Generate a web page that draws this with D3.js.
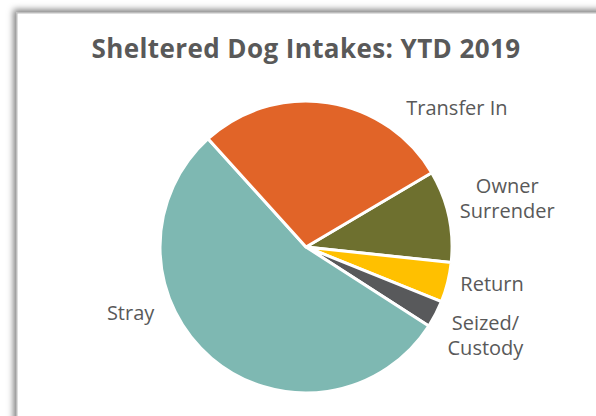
<!DOCTYPE html>
<html>
<head>
<meta charset="utf-8">
<script src="https://cdn.jsdelivr.net/npm/d3@7"></script>
<style>
  html, body { margin: 0; padding: 0; background: #ffffff; }
  svg { display: block; }
</style>
</head>
<body>
<svg id="chart" width="596" height="416"></svg>
<script>
// chart values (share of intakes, %), alphabetical like the source sheet
const categories = ["Owner Surrender", "Return", "Seized/Custody", "Stray", "Transfer In"];
const shares = [10.2, 4.4, 3.0, 54.2, 28.2];
const colors = ["#6E702F", "#FFC000", "#58595B", "#7EB8B2", "#E16428"];
// label lines as shown in the chart
const labelLines = [["Owner", "Surrender"], ["Return"], ["Seized/", "Custody"], ["Stray"], ["Transfer In"]];

const width = 596;
const height = 416;
const cx = 306;
const cy = 247;
const radius = 146;
const labelFont = "'Open Sans', sans-serif";
const textColor = "#595959";

const svg = d3.select("#chart");

// frame with soft shadow on the top/left edges
const defs = svg.append("defs");
const shadow = defs.append("filter")
  .attr("id", "frame-shadow")
  .attr("x", "-10%").attr("y", "-10%")
  .attr("width", "120%").attr("height", "120%");
shadow.append("feDropShadow")
  .attr("dx", -3).attr("dy", -3)
  .attr("stdDeviation", 3)
  .attr("flood-color", "#000")
  .attr("flood-opacity", 0.5);

svg.append("rect")
  .attr("x", 17).attr("y", 13)
  .attr("width", width + 20).attr("height", height + 20)
  .style("fill", "#fff")
  .style("stroke", "#bdbdbd")
  .style("stroke-width", 1)
  .attr("filter", "url(#frame-shadow)");

// title
svg.append("text")
  .attr("x", cx)
  .attr("y", 58)
  .attr("text-anchor", "middle")
  .style("font-family", labelFont)
  .style("font-weight", "bold")
  .style("font-size", "26px")
  .style("letter-spacing", "0.4px")
  .style("fill", textColor)
  .text("Sheltered Dog Intakes: YTD 2019");

const data = categories.map((c, i) => ({category: c, value: shares[i], color: colors[i], lines: labelLines[i]}));

const startDeg = 59.4;
const pie = d3.pie()
  .sort(null)
  .value((d) => d.value)
  .startAngle(startDeg * Math.PI / 180)
  .endAngle((startDeg + 360) * Math.PI / 180);

const arcs = pie(data);

const arc = d3.arc()
  .innerRadius(0)
  .outerRadius(radius);

const labelArc = d3.arc()
  .innerRadius(radius + 20)
  .outerRadius(radius + 20);

const pieGroup = svg.append("g")
  .attr("transform", `translate(${cx}, ${cy})`);

pieGroup.selectAll("path.slice")
  .data(arcs)
  .enter()
  .append("path")
  .attr("class", "slice")
  .attr("d", arc)
  .style("fill", (d) => d.data.color)
  .style("stroke", "#fff")
  .style("stroke-width", 3)
  .style("stroke-linejoin", "round");

// labels outside the pie, nudged per slice like the original "best fit" layout
const labelNudge = {
  "Owner Surrender": [39, -13],
  "Return": [25, -3],
  "Seized/Custody": [32, 12],
  "Stray": [-68, -61],
  "Transfer In": [126, 25]
};
const lineHeight = 25;

const labels = pieGroup.selectAll("text.label")
  .data(arcs)
  .enter()
  .append("text")
  .attr("class", "label")
  .attr("text-anchor", "middle")
  .style("font-family", labelFont)
  .style("font-size", "20px")
  .style("fill", textColor)
  .attr("transform", (d) => {
    const pos = labelArc.centroid(d);
    const n = labelNudge[d.data.category];
    return `translate(${pos[0] + n[0]}, ${pos[1] + n[1]})`;
  });

labels.each(function(d) {
  const t = d3.select(this);
  const lines = d.data.lines;
  const offset = -(lines.length - 1) * lineHeight / 2 + 7;
  lines.forEach((line, i) => {
    t.append("tspan")
      .attr("x", 0)
      .attr("y", offset + i * lineHeight)
      .text(line);
  });
});
</script>
</body>
</html>
